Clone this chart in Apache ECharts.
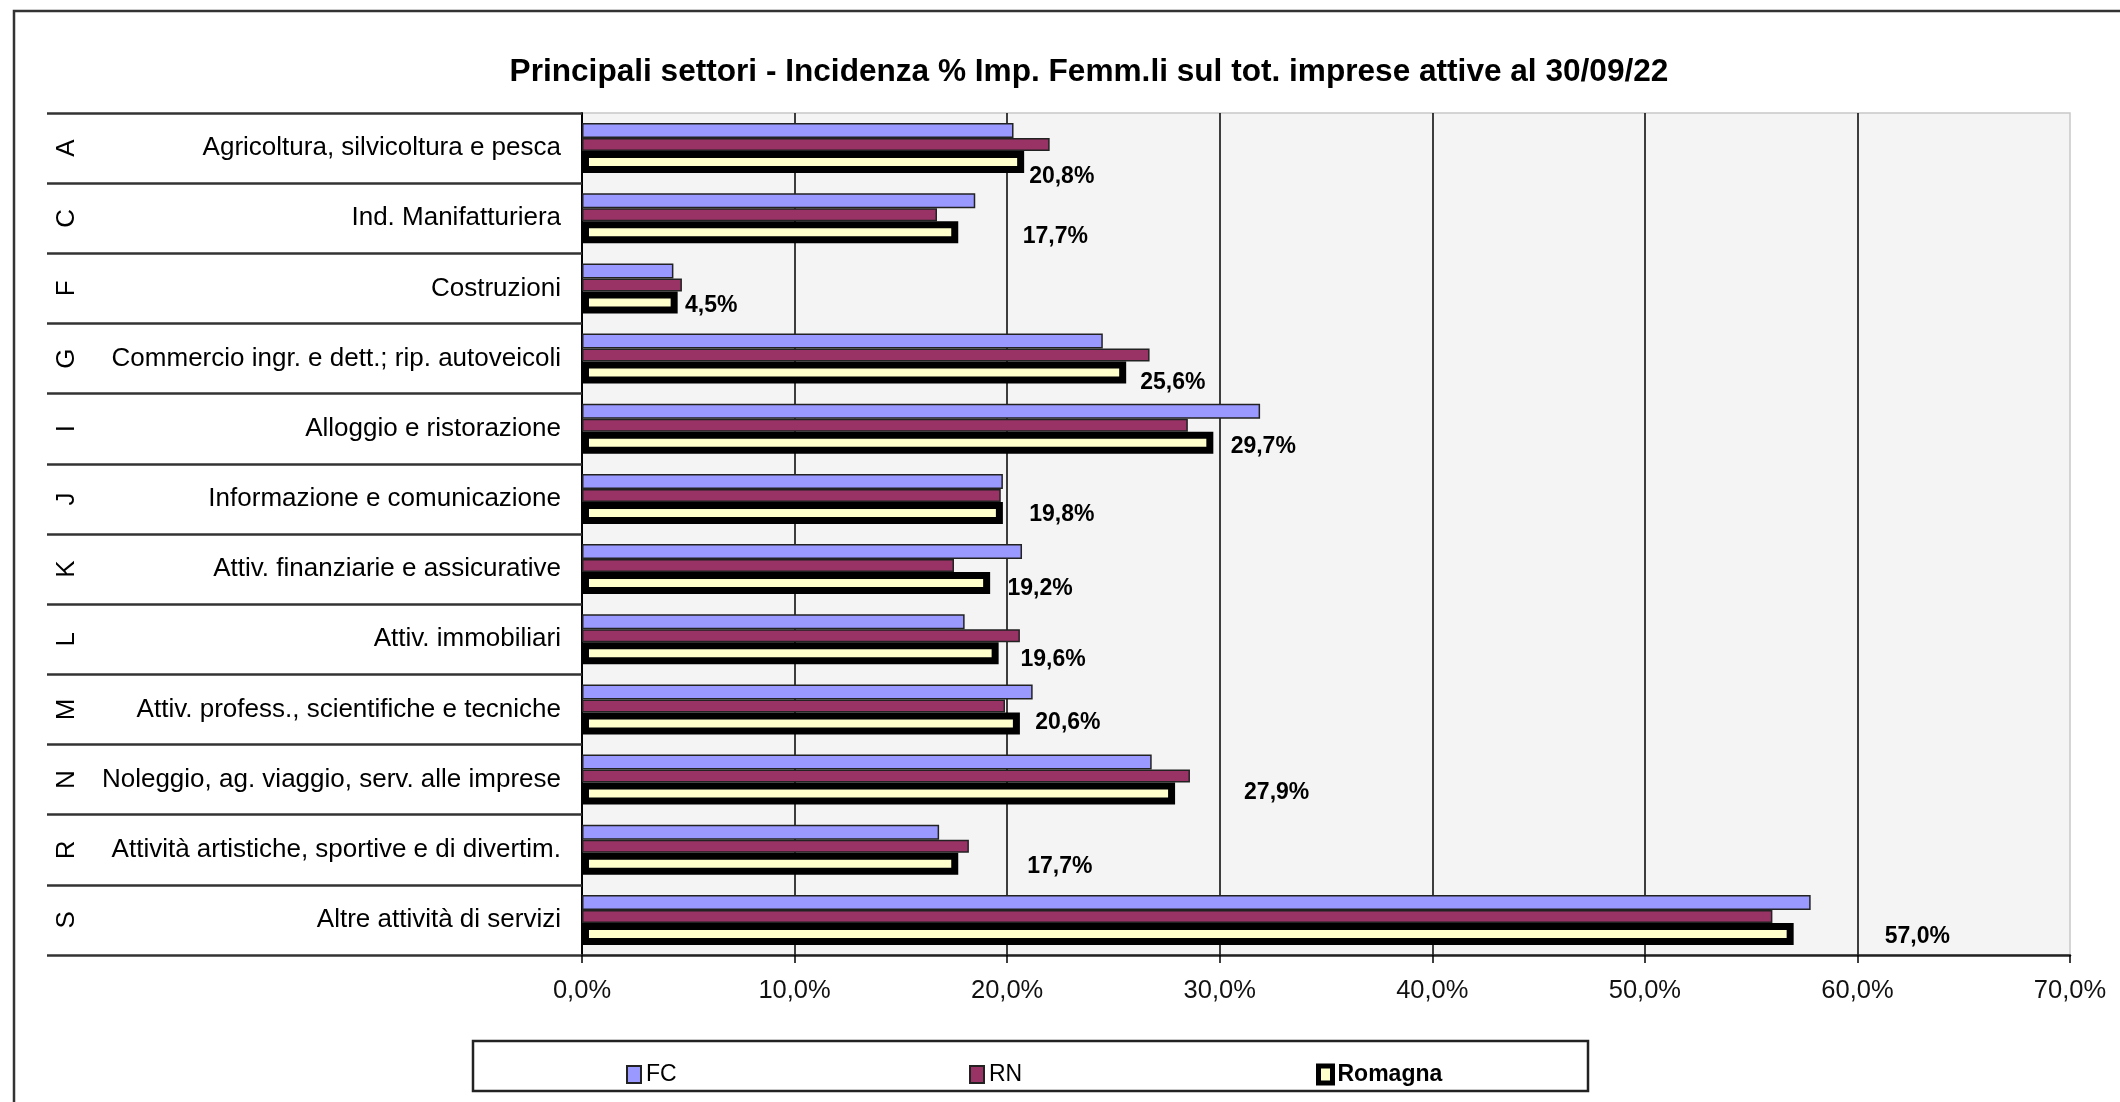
<!DOCTYPE html>
<html>
<head>
<meta charset="utf-8">
<script src="https://cdn.jsdelivr.net/npm/echarts@6/dist/echarts.min.js"></script>
<style>
html,body{margin:0;padding:0;background:#fff;}
#chart{width:2120px;height:1102px;}
</style>
</head>
<body>
<div id="chart"></div>
<script>
// ---------- DATA ----------
const categories = [
  'Agricoltura, silvicoltura e pesca',
  'Ind. Manifatturiera',
  'Costruzioni',
  'Commercio ingr. e dett.; rip. autoveicoli',
  'Alloggio e ristorazione',
  'Informazione e comunicazione',
  'Attiv. finanziarie e assicurative',
  'Attiv. immobiliari',
  'Attiv. profess., scientifiche e tecniche',
  'Noleggio, ag. viaggio, serv. alle imprese',
  'Attività artistiche, sportive e di divertim.',
  'Altre attività di servizi'
];
const codes = ['A', 'C', 'F', 'G', 'I', 'J', 'K', 'L', 'M', 'N', 'R', 'S'];
const fcValues      = [20.3, 18.5, 4.3, 24.5, 31.9, 19.8, 20.7, 18.0, 21.2, 26.8, 16.8, 57.8];
const rnValues      = [22.0, 16.7, 4.7, 26.7, 28.5, 19.7, 17.5, 20.6, 19.9, 28.6, 18.2, 56.0];
const romagnaValues = [20.8, 17.7, 4.5, 25.6, 29.7, 19.8, 19.2, 19.6, 20.6, 27.9, 17.7, 57.0];
const seriesNames = ['FC', 'RN', 'Romagna'];
const xMin = 0, xMax = 70, xStep = 10;
const titleText = 'Principali settori - Incidenza % Imp. Femm.li sul tot. imprese attive al 30/09/22';

// ---------- STYLE / LAYOUT ----------
const FONT = "'Liberation Sans', Arial, sans-serif";
// label nudges [dx, dy] relative to the bar end (as in the original layout)
const labelNudge = [[5,14.6],[64.5,4.4],[7.3,3.5],[14,10.3],[17.3,3.8],[26.3,1.9],[17.4,5.7],[21.8,6.5],[15.4,-1],[69,-0.9],[69,2.6],[91,2.4]];
const fmtPct = v => Number(v).toFixed(1).replace('.', ',') + '%';

const chart = echarts.init(document.getElementById('chart'), null, {renderer: 'canvas'});

const GRID = {left: 582, top: 113, width: 1488, height: 842};

const legendCommon = {itemWidth: 14, itemHeight: 17, icon: 'rect', top: 1058};

const option = {
  backgroundColor: '#ffffff',
  animation: false,
  title: {
    text: titleText,
    left: 1084,
    top: 51,
    textAlign: 'center',
    textStyle: {fontFamily: FONT, fontSize: 31.6, fontWeight: 'bold', color: '#000'}
  },
  graphic: [
    {type: 'rect', silent: true, z: -1,
     shape: {x: 14, y: 11, width: 2300, height: 1300},
     style: {fill: 'none', stroke: '#333', lineWidth: 2.5}},
    {type: 'rect', silent: true,
     shape: {x: 473, y: 1041, width: 1115, height: 50},
     style: {fill: 'none', stroke: '#222', lineWidth: 2.5}}
  ],
  legend: [
    Object.assign({data: [{name: 'FC'}], left: 621,
     textStyle: {fontFamily: FONT, fontSize: 23, color: '#000'}}, legendCommon),
    Object.assign({data: [{name: 'RN'}], left: 964,
     textStyle: {fontFamily: FONT, fontSize: 23, color: '#000'}}, legendCommon),
    Object.assign({data: [{name: 'Romagna', itemStyle: {borderWidth: 5}}], left: 1311,
     textStyle: {fontFamily: FONT, fontSize: 23, fontWeight: 'bold', color: '#000'}}, legendCommon)
  ],
  grid: Object.assign({show: true, backgroundColor: '#F4F4F4', borderColor: '#C8C8C8', borderWidth: 1.5, containLabel: false}, GRID),
  xAxis: {
    type: 'value', min: xMin, max: xMax, interval: xStep,
    axisLine: {show: true, lineStyle: {color: '#222', width: 2.5}},
    axisTick: {show: true, length: 8, lineStyle: {color: '#000', width: 1.5}},
    axisLabel: {margin: 23, formatter: fmtPct, fontFamily: FONT, fontSize: 25.5, color: '#111'},
    splitLine: {show: true, showMinLine: false, showMaxLine: false, lineStyle: {color: '#000', width: 1.5}}
  },
  yAxis: [
    {
      type: 'category', data: categories, inverse: true, position: 'left',
      axisLine: {show: true, lineStyle: {color: '#000', width: 2}},
      axisTick: {show: true, length: 535, lineStyle: {color: '#333', width: 2.5}},
      axisLabel: {margin: 21, fontFamily: FONT, fontSize: 26, color: '#000'},
      splitLine: {show: false}
    },
    {
      type: 'category', data: codes, inverse: true, position: 'left', offset: 515,
      axisLine: {show: false}, axisTick: {show: false},
      axisLabel: {rotate: 90, margin: 0, align: 'center', verticalAlign: 'middle',
                  fontFamily: FONT, fontSize: 26, color: '#000'}
    }
  ],
  series: [
    {
      name: seriesNames[0], type: 'bar', data: fcValues, barWidth: 15, barGap: '0%',
      itemStyle: {color: '#9999FF', borderColor: '#222', borderWidth: 1.5}
    },
    {
      name: seriesNames[1], type: 'bar', data: rnValues, barWidth: 13, barGap: '0%',
      itemStyle: {color: '#993366', borderColor: '#222', borderWidth: 1.5}
    },
    {
      name: seriesNames[2], type: 'bar', barWidth: 22, barGap: '0%',
      itemStyle: {color: '#FFFFCC', borderColor: '#000', borderWidth: 7},
      data: romagnaValues.map((v, i) => ({
        value: v,
        label: {offset: labelNudge[i]}
      })),
      label: {
        show: true, position: 'right', distance: 0,
        formatter: p => fmtPct(p.value),
        fontFamily: FONT, fontSize: 23, fontWeight: 'bold', color: '#000'
      }
    }
  ]
};
chart.setOption(option);
</script>
</body>
</html>
